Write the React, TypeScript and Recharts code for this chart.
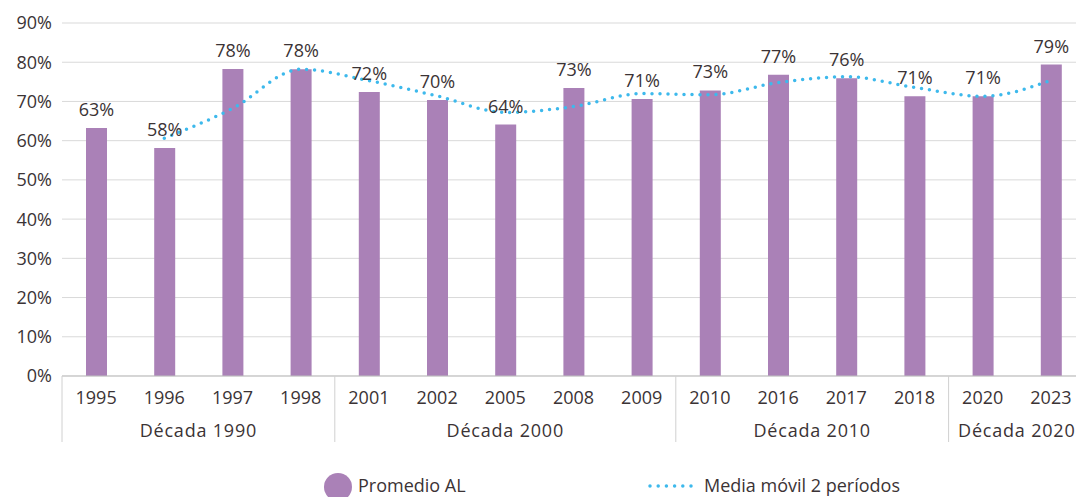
import React from 'react';
import { ComposedChart, Bar, Line, XAxis, YAxis, CartesianGrid, LabelList, Legend } from 'recharts';

const YEARS = ['1995', '1996', '1997', '1998', '2001', '2002', '2005', '2008', '2009', '2010', '2016', '2017', '2018', '2020', '2023'];
const DECADES = ['Década 1990', 'Década 1990', 'Década 1990', 'Década 1990', 'Década 2000', 'Década 2000', 'Década 2000', 'Década 2000', 'Década 2000', 'Década 2010', 'Década 2010', 'Década 2010', 'Década 2010', 'Década 2020', 'Década 2020'];
const PROMEDIO = [63.2, 58.1, 78.3, 78.2, 72.4, 70.4, 64.1, 73.4, 70.6, 72.8, 76.8, 75.9, 71.3, 71.3, 79.4];
const MEDIA_MOVIL = [null, 60.6, 68.2, 78.2, 75.3, 71.4, 67.2, 68.7, 72.0, 71.7, 74.8, 76.3, 73.6, 71.3, 75.4];
const Y_TICKS = [0, 10, 20, 30, 40, 50, 60, 70, 80, 90];

const BAR_COLOR = '#AA81B7';
const LINE_COLOR = '#3DB9EC';
const TEXT_COLOR = '#3B3335';
const FONT = '"Open Sans", sans-serif';

const data = YEARS.map((year, i) => ({
  year,
  decade: DECADES[i],
  promedio: PROMEDIO[i],
  media: MEDIA_MOVIL[i],
}));

const YearTick = (props: any) => {
  const { x, y, payload, index } = props;
  const half = payload?.offset ?? 34;
  const isGroupStart = index === 0 || DECADES[index] !== DECADES[index - 1];
  return (
    <g>
      <text x={x} y={y + 28} textAnchor="middle" fill={TEXT_COLOR} fontSize={18} fontFamily={FONT}>
        {payload.value}
      </text>
      {isGroupStart && (
        <line x1={x - half} x2={x - half} y1={y} y2={y + 66} stroke="#D0D0D0" strokeWidth={1} />
      )}
    </g>
  );
};

const DecadeTick = (props: any) => {
  const { x, y, index } = props;
  const half = props.payload?.offset ?? 34;
  const isGroupStart = index === 0 || DECADES[index] !== DECADES[index - 1];
  if (!isGroupStart) return null;
  let n = 0;
  while (index + n < DECADES.length && DECADES[index + n] === DECADES[index]) n++;
  const cx = x + (n - 1) * half;
  return (
    <text x={cx} y={y + 25} textAnchor="middle" fill={TEXT_COLOR} fontSize={18} fontFamily={FONT} letterSpacing={0.8}>
      {DECADES[index]}
    </text>
  );
};

const LegendContent = () => (
  <svg width={1076} height={27} style={{ overflow: 'visible', display: 'block' }}>
    <circle cx={338} cy={17} r={14} fill={BAR_COLOR} />
    <text x={358} y={22} fill={TEXT_COLOR} fontSize={18} fontFamily={FONT}>Promedio AL</text>
    <line x1={650} x2={692} y1={16} y2={16} stroke={LINE_COLOR} strokeWidth={3.5} strokeDasharray="0 8.2" strokeLinecap="round" />
    <text x={704} y={22} fill={TEXT_COLOR} fontSize={18} fontFamily={FONT}>Media móvil 2 períodos</text>
  </svg>
);

export default function App() {
  return (
    <div style={{ position: 'absolute', left: 0, top: 0, width: 1076, height: 497, overflow: 'hidden', background: '#fff' }}>
      <ComposedChart width={1090} height={497} data={data} margin={{ top: 23, right: 5, left: 0, bottom: 49 }}>
        <CartesianGrid vertical={false} stroke="#D9D9D9" strokeWidth={1} />
        <YAxis
          domain={[0, 90]}
          ticks={Y_TICKS}
          width={62}
          axisLine={false}
          tickLine={false}
          tickSize={0}
          tickMargin={10}
          tickFormatter={(v: number) => `${v}%`}
          tick={{ fill: TEXT_COLOR, fontSize: 18, fontFamily: FONT }}
        />
        <XAxis
          dataKey="year"
          height={36}
          axisLine={{ stroke: '#BFBFBF' }}
          tickLine={false}
          tickSize={0}
          tickMargin={0}
          interval={0}
          tick={<YearTick />}
        />
        <XAxis
          xAxisId="decade"
          dataKey="year"
          height={36}
          axisLine={false}
          tickLine={false}
          tickSize={0}
          tickMargin={0}
          interval={0}
          tick={<DecadeTick />}
        />
        <Legend layout="horizontal" verticalAlign="middle" align="center" wrapperStyle={{ position: 'absolute', top: 470, left: 0, width: 1076 }} content={<LegendContent />} />
        <Bar dataKey="promedio" name="Promedio AL" fill={BAR_COLOR} barSize={21} isAnimationActive={false}>
          <LabelList
            dataKey="promedio"
            position="top"
            offset={12}
            formatter={(v: any) => `${Math.round(Number(v))}%`}
            fill={TEXT_COLOR}
            fontSize={18}
            fontFamily={FONT}
          />
        </Bar>
        <Line
          dataKey="media"
          name="Media móvil 2 períodos"
          type="monotone"
          stroke={LINE_COLOR}
          strokeWidth={3.5}
          strokeDasharray="0 8"
          strokeLinecap="round"
          dot={false}
          activeDot={false}
          connectNulls={false}
          isAnimationActive={false}
        />
      </ComposedChart>
    </div>
  );
}
